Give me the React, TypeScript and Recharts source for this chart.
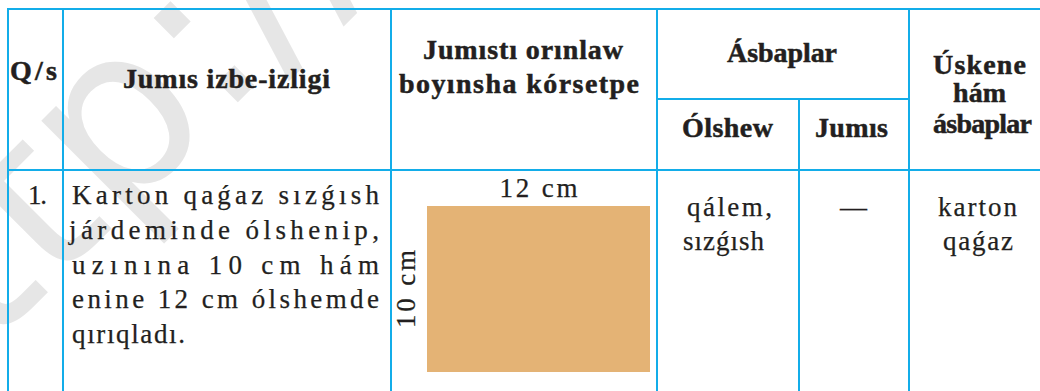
import React from "react";
import { BarChart, Bar, XAxis, YAxis } from "recharts";

// karton qaǵaz ólshemi (cm)
const sideNames = ["enine", "uzınına"];
const sideLengths = [12, 10];
const sideLabels = ["12 cm", "10 cm"];
const sheetName = ["karton"];

const headTexts = [
  "Q/s",
  "Jumıs  izbe-izligi",
  "Jumıstı orınlaw",
  "boyınsha kórsetpe",
  "Ásbaplar",
  "Ólshew",
  "Jumıs",
  "Úskene",
  "hám",
  "ásbaplar",
];

const rowNumber = ["1."];
const stepLines = [
  "Karton qaǵaz sızǵısh",
  "járdeminde ólshenip,",
  "uzınına 10 cm hám",
  "enine 12 cm ólshemde",
  "qırıqladı.",
];
const measureTools = ["qálem,", "sızǵısh"];
const workTools = ["—"];
const equipment = ["karton", "qaǵaz"];

// layout: [x, baseline, width]
const headPlaces = [
  [10, 80, 47],
  [123, 88, 207],
  [423, 59, 200],
  [399, 93, 240],
  [727, 62, 110],
  [682, 137, 91],
  [815, 137, 73],
  [933, 74, 93],
  [953, 102, 53],
  [933, 133, 99],
];
const stepPlaces = [
  [72, 204, 307],
  [69, 239, 310],
  [72, 274, 307],
  [72, 308, 307],
  [72, 343, 113],
];

const BLUE = "#13ade9";
const INK = "#231f20";
const SERIF = '"Liberation Serif", "Times New Roman", serif';

const gridLines = [
  [7, 9, 1040, 9],
  [7, 170, 1040, 170],
  [657, 99, 909, 99],
  [8, 8, 8, 391],
  [63, 8, 63, 391],
  [391, 8, 391, 391],
  [657, 8, 657, 391],
  [909, 8, 909, 391],
  [799, 99, 799, 391],
];

const sheet = [
  { name: sheetName[0], [sideNames[0]]: sideLengths[0], [sideNames[1]]: sideLengths[1] },
];

const SideCaption = (props: any) => {
  const { viewBox, text, span, turn } = props;
  if (!viewBox) return null;
  const cx = viewBox.x + viewBox.width / 2;
  const cy = viewBox.y + viewBox.height / 2;
  return (
    <text
      x={cx}
      y={cy + 9}
      textAnchor="middle"
      textLength={span}
      lengthAdjust="spacing"
      transform={turn ? `rotate(-90 ${cx} ${cy})` : undefined}
      fill={INK}
      stroke={INK}
      strokeWidth={0.25}
      fontSize={27}
      style={{ fontFamily: SERIF }}
    >
      {text}
    </text>
  );
};

const Word = ({ t, p, bold }: { t: string; p: number[]; bold?: boolean }) => (
  <text
    x={p[0]}
    y={p[1]}
    textLength={p[2]}
    lengthAdjust="spacing"
    fill={INK}
    stroke={INK}
    strokeWidth={bold ? 0.5 : 0.25}
    fontSize={bold ? 28 : 27}
    fontWeight={bold ? 700 : 400}
    style={{ fontFamily: SERIF }}
  >
    {t}
  </text>
);

export default function App() {
  return (
    <div style={{ position: "absolute", left: 0, top: 0, width: 1040, height: 391, background: "#fff", overflow: "hidden", fontFamily: SERIF }}>
      <svg width={1040} height={391} style={{ position: "absolute", left: 0, top: 0 }}>
        {/* suw belgisi */}
        <text
          x={0}
          y={0}
          transform="translate(-115 455) rotate(-45)"
          fontSize={230}
          style={{ fontFamily: '"DejaVu Sans", sans-serif' }}
          fill="#e6e6e6"
        >
          http://
        </text>

        {gridLines.map((l, i) => (
          <line key={i} x1={l[0]} y1={l[1]} x2={l[2]} y2={l[3]} stroke={BLUE} strokeWidth={2} />
        ))}

        {headTexts.map((t, i) => (
          <Word key={t + i} t={t} p={headPlaces[i]} bold />
        ))}

        <Word t={rowNumber[0]} p={[28, 204, 19]} />
        {stepLines.map((t, i) => (
          <Word key={i} t={t} p={stepPlaces[i]} />
        ))}

        <Word t={measureTools[0]} p={[687, 216, 85]} />
        <Word t={measureTools[1]} p={[683, 250, 81]} />
        <Word t={workTools[0]} p={[840, 216, 24]} />
        <Word t={equipment[0]} p={[938, 216, 79]} />
        <Word t={equipment[1]} p={[943, 250, 70]} />
      </svg>

      <div style={{ position: "absolute", left: 385, top: 170 }}>
        <BarChart
          width={265}
          height={202}
          data={sheet}
          margin={{ top: 0, right: 0, bottom: 0, left: 0 }}
          barCategoryGap={0}
        >
          <XAxis
            dataKey="name"
            orientation="top"
            height={36}
            tick={false}
            tickLine={false}
            axisLine={false}
            label={<SideCaption text={sideLabels[0]} span={78} />}
          />
          <YAxis
            type="number"
            domain={[0, sideLengths[1]]}
            width={42}
            tick={false}
            tickLine={false}
            axisLine={false}
            label={<SideCaption text={sideLabels[1]} span={78} turn />}
          />
          <Bar dataKey={sideNames[1]} fill="#e4b375" isAnimationActive={false} />
        </BarChart>
      </div>
    </div>
  );
}
